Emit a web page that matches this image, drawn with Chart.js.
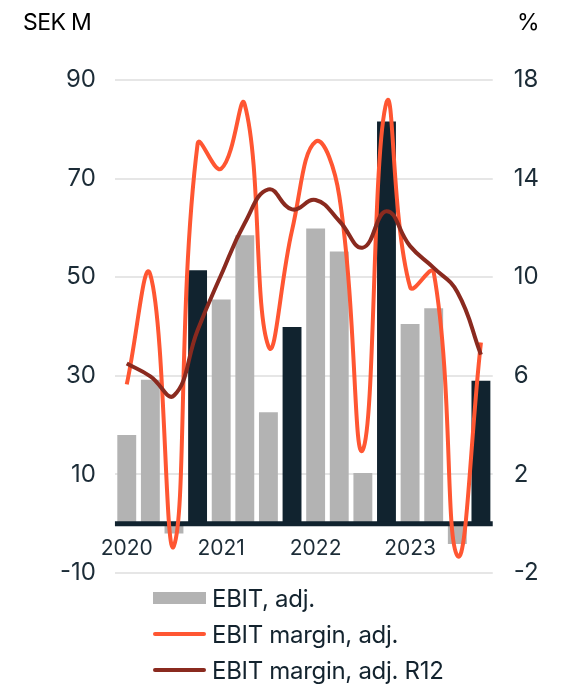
<!DOCTYPE html>
<html>
<head>
<meta charset="utf-8">
<script src="https://cdn.jsdelivr.net/npm/chart.js@4.4.0/dist/chart.umd.min.js"></script>
<style>
  html, body { margin: 0; padding: 0; background: #fff; }
  #wrap { position: relative; width: 570px; height: 686px; font-family: Inter, sans-serif; color: #13232e; }
  #chart { position: absolute; left: 0; top: 0; }
  .unit { position: absolute; top: 8px; font-size: 23px; color: #000; letter-spacing: -0.6px; }
  #legend { position: absolute; left: 153px; top: 580px; }
  .item { display: flex; align-items: center; height: 36px; font-size: 24px; letter-spacing: -0.3px; }
  .swatch { width: 53px; margin-right: 6px; }
</style>
</head>
<body>
<div id="wrap">
  <canvas id="chart" width="570" height="686"></canvas>
  <div class="unit" style="left:23px">SEK M</div>
  <div class="unit" style="left:517px">%</div>
  <div id="legend"></div>
</div>
<script>
// quarters, Q4 bars are the dark ones
const categories = [
  '2020 Q1', '2020 Q2', '2020 Q3', '2020 Q4',
  '2021 Q1', '2021 Q2', '2021 Q3', '2021 Q4',
  '2022 Q1', '2022 Q2', '2022 Q3', '2022 Q4',
  '2023 Q1', '2023 Q2', '2023 Q3', '2023 Q4'
];
const yearLabels = ['2020', '2021', '2022', '2023'];

// SEK M
const ebitAdj = [18, 29.2, -2, 51.4, 45.5, 58.5, 22.6, 39.9, 59.9, 55.2, 10.3, 81.6, 40.5, 43.7, -4.1, 29];
// %
const marginAdj = [5.65, 10.1, -0.9, 15.4, 14.4, 17.0, 7.2, 11.9, 15.5, 13.3, 3.0, 17.1, 9.6, 10.2, -1.3, 7.35];
const marginR12 = [6.5, 5.98, 5.2, 7.85, 10.1, 12.2, 13.56, 12.75, 13.13, 12.28, 11.2, 12.68, 11.26, 10.38, 9.4, 6.86];

const leftTicks = [-10, 10, 30, 50, 70, 90];
const rightTicks = [-2, 2, 6, 10, 14, 18];

const grey = '#b3b3b3';
const dark = '#11232f';
const orange = '#ff5632';
const darkRed = '#8a2a1f';
const textColor = '#1c2c37';

// thick line at zero, drawn over the bars but under the lines
const zeroLine = {
  id: 'zeroLine',
  afterDatasetDraw(chart, args) {
    if (args.index !== 0) return;
    const { ctx, chartArea } = chart;
    const y = chart.scales.y.getPixelForValue(0);
    ctx.save();
    ctx.strokeStyle = dark;
    ctx.lineWidth = 5;
    ctx.beginPath();
    ctx.moveTo(chartArea.left, y);
    ctx.lineTo(chartArea.right, y);
    ctx.stroke();
    ctx.restore();
  }
};

const ctx = document.getElementById('chart').getContext('2d');
new Chart(ctx, {
  data: {
    labels: categories,
    datasets: [{
      type: 'bar',
      label: 'EBIT, adj.',
      data: ebitAdj,
      yAxisID: 'y',
      backgroundColor: categories.map(c => c.endsWith('Q4') ? dark : grey),
      barPercentage: 0.8,
      categoryPercentage: 1,
      order: 3
    }, {
      type: 'line',
      label: 'EBIT margin, adj.',
      data: marginAdj,
      yAxisID: 'y1',
      borderColor: orange,
      borderWidth: 4,
      pointRadius: 0,
      tension: 0.45,
      order: 2
    }, {
      type: 'line',
      label: 'EBIT margin, adj. R12',
      data: marginR12,
      yAxisID: 'y1',
      borderColor: darkRed,
      borderWidth: 4,
      pointRadius: 0,
      tension: 0.45,
      order: 1
    }]
  },
  options: {
    responsive: false,
    animation: false,
    layout: { padding: { left: 41, right: 10, top: 80, bottom: 113 } },
    plugins: { legend: { display: false }, tooltip: { enabled: false } },
    scales: {
      x: {
        position: { y: 0 },
        grid: { display: false },
        border: { display: false },
        ticks: {
          autoSkip: false,
          maxRotation: 0,
          padding: 4,
          color: textColor,
          font: { family: 'Inter', size: 21 },
          callback: (v, i) => i % 4 === 0 ? yearLabels[i / 4] : ''
        }
      },
      y: {
        position: 'left',
        min: leftTicks[0],
        max: leftTicks[leftTicks.length - 1],
        grid: { color: '#e6e6e6', lineWidth: 2, drawTicks: false },
        border: { display: false },
        afterBuildTicks: s => { s.ticks = leftTicks.map(v => ({ value: v })); },
        ticks: { padding: 19, color: textColor, font: { family: 'Inter', size: 24 } }
      },
      y1: {
        position: 'right',
        min: rightTicks[0],
        max: rightTicks[rightTicks.length - 1],
        grid: { display: false, drawTicks: false },
        border: { display: false },
        afterBuildTicks: s => { s.ticks = rightTicks.map(v => ({ value: v })); },
        ticks: { padding: 21, color: textColor, font: { family: 'Inter', size: 24 } }
      }
    }
  },
  plugins: [zeroLine]
});

// legend, one entry per row
const legendItems = [
  { text: 'EBIT, adj.', color: grey, h: 12, r: 0 },
  { text: 'EBIT margin, adj.', color: orange, h: 4, r: 2 },
  { text: 'EBIT margin, adj. R12', color: darkRed, h: 4, r: 2 }
];
const legend = document.getElementById('legend');
legendItems.forEach(it => {
  const row = document.createElement('div');
  row.className = 'item';
  const sw = document.createElement('span');
  sw.className = 'swatch';
  sw.style.height = it.h + 'px';
  sw.style.background = it.color;
  sw.style.borderRadius = it.r + 'px';
  const label = document.createElement('span');
  label.textContent = it.text;
  row.appendChild(sw);
  row.appendChild(label);
  legend.appendChild(row);
});
</script>
</body>
</html>
